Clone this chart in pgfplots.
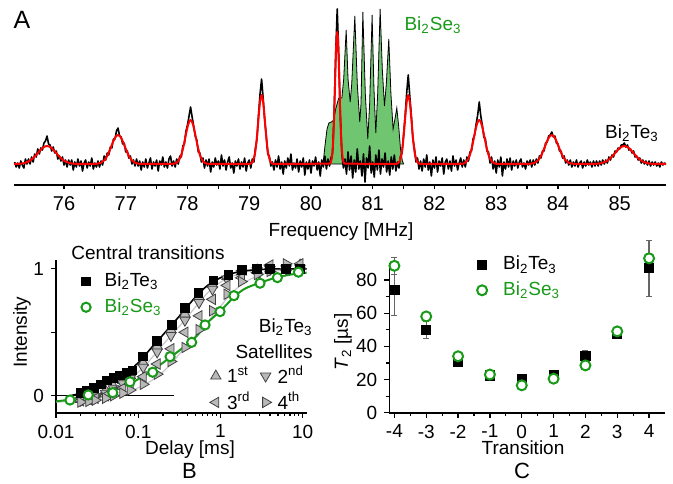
\documentclass[border=0pt]{standalone}
\usepackage{fontspec}
\setmainfont{Liberation Sans}
\usepackage{pgfplots}
\pgfplotsset{compat=1.18}

\definecolor{segreen}{RGB}{112,198,112}
\definecolor{dgreen}{RGB}{24,154,24}
\definecolor{trifill}{RGB}{185,185,185}
\definecolor{satline}{RGB}{200,200,200}
\newcommand\fs{\fontsize{9.5}{11.4}\selectfont}
\newcommand\BT{Bi\textsubscript{2}Te\textsubscript{3}}
\newcommand\BS{Bi\textsubscript{2}Se\textsubscript{3}}

\pgfplotsset{
  panel/.style={scale only axis, tick align=outside,
    axis line style={line width=0.8pt},
    tick style={black, line width=0.6pt},
    major tick length=2.5pt, minor tick length=1.6pt,
    ticklabel style={font=\fs},
    /pgf/number format/assume math mode=true},
}

\begin{document}
\begin{tikzpicture}
\path[use as bounding box] (0,0) rectangle (336.5pt,-241.5pt);

% ---------------- A: spectrum ----------------
\begin{axis}[panel, at={(7pt,-92.5pt)}, anchor=south west,
  width=326pt, height=90.5pt,
  xmin=75.19, xmax=85.75, ymin=-21, ymax=160,
  axis x line*=bottom, axis y line=none,
  xtick={76,...,85}, minor x tick num=1,
  major tick length=2.2pt, minor tick length=2.2pt,
  ticklabel style={font=\fontsize{10}{12}\selectfont}]

% Bi2Se3 central multiplet
\addplot[fill=segreen, draw=black, line width=0.4pt] coordinates {
(80.17,0)(80.20,3)(80.23,20)(80.26,35)(80.29,41)(80.33,42)(80.37,44)(80.40,55)
(80.45,66)(80.50,66)(80.53,85)(80.57,134)(80.60,85)(80.635,62)(80.66,80)(80.71,148)
(80.75,80)(80.79,42)(80.81,60)(80.84,152)(80.88,70)(80.92,25)(80.95,60)(80.99,149)
(81.02,75)(81.05,31)(81.08,70)(81.12,155)(81.155,95)(81.19,58)(81.22,80)(81.26,125)
(81.295,70)(81.33,35)(81.36,45)(81.39,56)(81.42,38)(81.45,15)(81.48,3)(81.50,0)
} \closedcycle;

% Bi2Te3 measured spectrum
\addplot[black, line width=0.8pt, line join=round] coordinates {
(75.200,2)(75.225,-3)(75.250,1)(75.275,-4)(75.300,3)(75.325,-1)(75.350,-4)(75.375,5)
(75.400,0)(75.425,5)(75.450,0)(75.475,7)(75.500,2)(75.525,10)(75.550,7)(75.575,15)
(75.600,10)(75.625,16)(75.650,14)(75.675,21)(75.700,23)(75.725,28)(75.750,20)(75.775,19)
(75.800,13)(75.825,17)(75.850,11)(75.875,13)(75.900,5)(75.925,8)(75.950,3)(75.975,7)
(76.000,-1)(76.025,4)(76.050,-3)(76.075,4)(76.100,-1)(76.125,4)(76.150,-6)(76.175,2)
(76.200,-3)(76.225,5)(76.250,-2)(76.275,3)(76.300,-7)(76.325,1)(76.350,4)(76.375,-4)
(76.400,2)(76.425,-2)(76.450,6)(76.475,-5)(76.500,1)(76.525,-3)(76.550,3)(76.575,-3)
(76.600,3)(76.625,-1)(76.650,8)(76.675,4)(76.700,11)(76.725,9)(76.750,17)(76.775,16)
(76.800,25)(76.825,25)(76.850,33)(76.875,36)(76.900,28)(76.925,27)(76.950,20)(76.975,21)
(77.000,12)(77.025,13)(77.050,6)(77.075,8)(77.100,0)(77.125,4)(77.150,-2)(77.175,5)
(77.200,-2)(77.225,3)(77.250,-6)(77.275,2)(77.300,-3)(77.325,5)(77.350,-4)(77.375,1)
(77.400,6)(77.425,-5)(77.450,2)(77.475,-2)(77.500,4)(77.525,-7)(77.550,3)(77.575,-1)
(77.600,7)(77.625,-3)(77.650,2)(77.675,-4)(77.700,5)(77.725,8)(77.750,-2)(77.775,3)
(77.800,-3)(77.825,5)(77.850,0)(77.875,8)(77.900,7)(77.925,18)(77.950,20)(77.975,33)
(78.000,39)(78.025,48)(78.050,57)(78.075,47)(78.100,38)(78.125,28)(78.150,24)(78.175,12)
(78.200,11)(78.225,2)(78.250,6)(78.275,-4)(78.300,4)(78.325,-2)(78.350,5)(78.375,-8)
(78.400,2)(78.425,-3)(78.450,6)(78.475,-1)(78.500,3)(78.525,-5)(78.550,9)(78.575,-2)
(78.600,4)(78.625,-6)(78.650,2)(78.675,7)(78.700,-4)(78.725,1)(78.750,-9)(78.775,3)
(78.800,-2)(78.825,5)(78.850,-5)(78.875,2)(78.900,-3)(78.925,6)(78.950,-7)(78.975,1)
(79.000,4)(79.025,-4)(79.050,5)(79.075,2)(79.100,16)(79.125,25)(79.150,49)(79.175,70)
(79.200,85)(79.225,66)(79.250,44)(79.275,29)(79.300,10)(79.325,8)(79.350,-2)(79.375,2)
(79.400,-6)(79.425,4)(79.450,-3)(79.475,8)(79.500,-5)(79.525,2)(79.550,-10)(79.575,3)
(79.600,-4)(79.625,6)(79.650,-2)(79.675,10)(79.700,-6)(79.725,1)(79.750,-4)(79.775,5)
(79.800,-8)(79.825,3)(79.850,-3)(79.875,6)(79.900,-11)(79.925,2)(79.950,-5)(79.975,4)
(80.000,-9)(80.025,3)(80.050,-2)(80.075,7)(80.100,-6)(80.125,2)(80.150,-12)(80.175,4)
(80.200,-3)(80.225,8)(80.250,-5)(80.275,5)(80.300,-2)(80.325,6)(80.350,11)(80.375,52)
(80.400,110)(80.425,155)(80.450,108)(80.475,50)(80.500,10)(80.525,-4)(80.550,5)(80.575,-10)
(80.600,12)(80.625,-6)(80.650,8)(80.675,-14)(80.700,4)(80.725,-8)(80.750,15)(80.775,-5)
(80.800,3)(80.825,-12)(80.850,10)(80.875,-18)(80.900,6)(80.925,-4)(80.950,18)(80.975,-9)
(81.000,2)(81.025,-13)(81.050,9)(81.075,-6)(81.100,14)(81.125,-10)(81.150,5)(81.175,-3)
(81.200,11)(81.225,-8)(81.250,3)(81.275,-11)(81.300,7)(81.325,-5)(81.350,9)(81.375,-7)
(81.400,2)(81.425,-4)(81.450,8)(81.475,11)(81.500,30)(81.525,48)(81.550,71)(81.575,89)
(81.600,68)(81.625,49)(81.650,25)(81.675,16)(81.700,2)(81.725,6)(81.750,-5)(81.775,3)
(81.800,-7)(81.825,5)(81.850,-3)(81.875,9)(81.900,-6)(81.925,2)(81.950,-12)(81.975,4)
(82.000,-4)(82.025,7)(82.050,-8)(82.075,3)(82.100,-2)(82.125,6)(82.150,-10)(82.175,2)
(82.200,5)(82.225,-5)(82.250,3)(82.275,-7)(82.300,8)(82.325,-2)(82.350,4)(82.375,-6)
(82.400,1)(82.425,6)(82.450,-3)(82.475,4)(82.500,-3)(82.525,7)(82.550,3)(82.575,12)
(82.600,13)(82.625,25)(82.650,29)(82.675,40)(82.700,49)(82.725,62)(82.750,48)(82.775,39)
(82.800,27)(82.825,25)(82.850,13)(82.875,12)(82.900,1)(82.925,7)(82.950,-5)(82.975,3)
(83.000,-9)(83.025,4)(83.050,-3)(83.075,7)(83.100,-12)(83.125,2)(83.150,-5)(83.175,5)
(83.200,-3)(83.225,6)(83.250,-6)(83.275,3)(83.300,-2)(83.325,4)(83.350,-4)(83.375,2)
(83.400,5)(83.425,-3)(83.450,1)(83.475,-5)(83.500,3)(83.525,-1)(83.550,4)(83.575,-3)
(83.600,4)(83.625,-1)(83.650,5)(83.675,1)(83.700,8)(83.725,6)(83.750,13)(83.775,13)
(83.800,21)(83.825,22)(83.850,28)(83.875,29)(83.900,32)(83.925,27)(83.950,28)(83.975,21)
(84.000,20)(84.025,13)(84.050,13)(84.075,6)(84.100,8)(84.125,1)(84.150,4)(84.175,-1)
(84.200,4)(84.225,-3)(84.250,2)(84.275,-2)(84.300,4)(84.325,-3)(84.350,1)(84.375,3)
(84.400,-4)(84.425,2)(84.450,-2)(84.475,4)(84.500,-1)(84.525,2)(84.550,-3)(84.575,3)
(84.600,-2)(84.625,3)(84.650,-2)(84.675,3)(84.700,-1)(84.725,4)(84.750,0)(84.775,4)
(84.800,1)(84.825,7)(84.850,4)(84.875,9)(84.900,7)(84.925,13)(84.950,12)(84.975,16)
(85.000,15)(85.025,19)(85.050,19)(85.075,21)(85.100,17)(85.125,19)(85.150,14)(85.175,15)
(85.200,11)(85.225,13)(85.250,7)(85.275,8)(85.300,4)(85.325,6)(85.350,1)(85.375,4)
(85.400,0)(85.425,3)(85.450,-1)(85.475,3)(85.500,-2)(85.525,2)(85.550,-1)(85.575,2)
(85.600,-2)(85.625,1)(85.650,-3)(85.675,2)(85.700,-1)(85.725,1)(85.750,0)
};

% Gaussian fit
\addplot[red, line width=1pt, line join=round] coordinates {
(75.19,0)(75.200,0.04)(75.275,0.2)(75.350,0.79)(75.425,2.44)(75.4625,3.89)(75.500,5.84)(75.5375,8.24)
(75.575,10.92)(75.6125,13.59)(75.650,15.89)(75.6875,17.44)(75.725,18)(75.7625,17.44)(75.800,15.89)
(75.8375,13.59)(75.875,10.92)(75.9125,8.24)(75.950,5.84)(75.9875,3.89)(76.025,2.44)(76.100,0.79)
(76.175,0.2)(76.250,0.04)
(76.49,0.06)(76.545,0.32)(76.60,1.27)(76.655,3.92)(76.6825,6.27)(76.71,9.42)(76.7375,13.28)
(76.765,17.59)(76.7925,21.89)(76.82,25.59)(76.8475,28.1)(76.875,29)(76.9025,28.1)(76.93,25.59)
(76.9575,21.89)(76.985,17.59)(77.0125,13.28)(77.04,9.42)(77.0675,6.27)(77.095,3.92)(77.15,1.27)
(77.205,0.32)(77.26,0.06)
(77.7525,0.1)(77.795,0.49)(77.8375,1.93)(77.88,5.95)(77.90125,9.52)(77.9225,14.29)(77.94375,20.14)
(77.965,26.69)(77.98625,33.21)(78.0075,38.83)(78.02875,42.64)(78.05,44)(78.07125,42.64)(78.0925,38.83)
(78.11375,33.21)(78.135,26.69)(78.15625,20.14)(78.1775,14.29)(78.19875,9.52)(78.22,5.95)(78.2625,1.93)
(78.305,0.49)(78.3475,0.1)
(79.0075,0.15)(79.035,0.77)(79.0625,3.03)(79.09,9.34)(79.10375,14.92)(79.1175,22.40)(79.13125,31.59)
(79.145,41.85)(79.15875,52.08)(79.1725,60.89)(79.18625,66.86)(79.2,69)(79.21375,66.86)(79.2275,60.89)
(79.24125,52.08)(79.255,41.85)(79.26875,31.59)(79.2825,22.40)(79.29625,14.92)(79.31,9.34)(79.3375,3.03)
(79.365,0.77)(79.3925,0.15)
(80.3025,0.29)(80.32,1.47)(80.3375,5.8)(80.355,17.9)(80.36375,28.6)(80.3725,42.9)(80.38125,60.4)
(80.39,80.1)(80.39875,99.6)(80.4075,116.5)(80.41625,127.9)(80.425,132)(80.43375,127.9)(80.4425,116.5)
(80.45125,99.6)(80.46,80.1)(80.46875,60.4)(80.4775,42.9)(80.48625,28.6)(80.495,17.9)(80.5125,5.8)
(80.53,1.47)(80.5475,0.29)
(81.3825,0.15)(81.41,0.77)(81.4375,3.03)(81.465,9.34)(81.47875,14.92)(81.4925,22.40)(81.50625,31.59)
(81.52,41.85)(81.53375,52.08)(81.5475,60.89)(81.56125,66.86)(81.575,69)(81.58875,66.86)(81.6025,60.89)
(81.61625,52.08)(81.63,41.85)(81.64375,31.59)(81.6575,22.40)(81.67125,14.92)(81.685,9.34)(81.7125,3.03)
(81.74,0.77)(81.7675,0.15)
(82.4275,0.1)(82.47,0.49)(82.5125,1.93)(82.555,5.95)(82.57625,9.52)(82.5975,14.29)(82.61875,20.14)
(82.64,26.69)(82.66125,33.21)(82.6825,38.83)(82.70375,42.64)(82.725,44)(82.74625,42.64)(82.7675,38.83)
(82.78875,33.21)(82.81,26.69)(82.83125,20.14)(82.8525,14.29)(82.87375,9.52)(82.895,5.95)(82.9375,1.93)
(82.98,0.49)(83.0225,0.1)
(83.515,0.06)(83.57,0.32)(83.625,1.27)(83.68,3.92)(83.7075,6.27)(83.735,9.42)(83.7625,13.28)
(83.79,17.59)(83.8175,21.89)(83.845,25.59)(83.8725,28.1)(83.9,29)(83.9275,28.1)(83.955,25.59)
(83.9825,21.89)(84.01,17.59)(84.0375,13.28)(84.065,9.42)(84.0925,6.27)(84.12,3.92)(84.175,1.27)
(84.23,0.32)(84.285,0.06)
(84.55,0.04)(84.625,0.2)(84.70,0.79)(84.775,2.44)(84.8125,3.89)(84.85,5.84)(84.8875,8.24)
(84.925,10.92)(84.9625,13.59)(85.0,15.89)(85.0375,17.44)(85.075,18)(85.1125,17.44)(85.15,15.89)
(85.1875,13.59)(85.225,10.92)(85.2625,8.24)(85.3,5.84)(85.3375,3.89)(85.375,2.44)(85.45,0.79)
(85.525,0.2)(85.6,0.04)(85.75,0)
};
\end{axis}

\node[inner sep=0, font=\fontsize{12.5}{14}\selectfont] at (11pt,-10pt) {A};
\node[inner sep=0, font=\fs, text=dgreen] at (216.5pt,-12.5pt) {\BS};
\node[inner sep=0, font=\fs] at (316pt,-66.5pt) {\BT};
\node[inner sep=0, font=\fs] at (170.5pt,-116pt) {Frequency [MHz]};

% ---------------- B: recovery curves ----------------
\begin{axis}[panel, at={(28pt,-206.35pt)}, anchor=south west,
  width=125.35pt, height=76.35pt,
  xmode=log, xmin=0.01, xmax=11.2, ymin=-0.134, ymax=1.07,
  axis lines*=left,
  xtick={0.01,0.1,1,10}, xticklabels={0.01,0.1,1,10},
  ytick={0,0.5,1}, yticklabels={0,,1},
  legend image code/.code={\draw[#1] plot coordinates {(0pt,0pt)};},
  legend style={at={(0.1,0.93)}, anchor=north west, draw=none, fill=none,
    inner sep=0pt, row sep=2.5pt, font=\fs, nodes={inner sep=1pt},
    /tikz/every odd column/.append style={column sep=6pt}},
  legend cell align=left]

\addplot[satline, line width=0.6pt, smooth, forget plot] coordinates {
(0.0126,-0.04)(0.0189,-0.03)(0.0252,-0.015)(0.0378,0.025)(0.063,0.095)(0.088,0.155)
(0.126,0.25)(0.189,0.385)(0.252,0.475)(0.378,0.605)(0.63,0.78)(0.88,0.87)(1.26,0.93)
(1.89,0.97)(2.52,0.985)(3.78,0.995)(6.3,1.0)(11.2,1.0)};
\addplot[satline, line width=0.6pt, smooth, forget plot] coordinates {
(0.01,-0.05)(0.025,-0.04)(0.0375,-0.03)(0.05,-0.015)(0.075,0.025)(0.125,0.095)(0.175,0.155)
(0.25,0.25)(0.375,0.385)(0.5,0.475)(0.75,0.605)(1.25,0.78)(1.75,0.87)(2.5,0.93)
(3.75,0.97)(5,0.985)(7.5,0.995)(11.2,1.0)};

% satellites 1st..4th
\addplot[only marks, mark=triangle*, mark size=3pt, forget plot,
  mark options={draw=black!75, fill=trifill, line width=0.4pt}] coordinates {
(0.02,-0.03)(0.025,-0.01)(0.03,0.005)(0.04,0.04)(0.05,0.075)(0.065,0.12)(0.08,0.16)
(0.115,0.26)(0.17,0.39)(0.25,0.52)(0.37,0.645)(0.55,0.78)(0.8,0.875)(1.2,0.94)
(1.8,0.975)(2.8,0.99)(4,1.0)(6.3,1.01)(9.3,1.03)};
\addplot[only marks, mark=triangle*, mark size=3pt, forget plot,
  mark options={draw=black!75, fill=trifill, line width=0.4pt, rotate=180}] coordinates {
(0.02,-0.035)(0.025,-0.02)(0.03,-0.01)(0.04,0.02)(0.05,0.055)(0.065,0.095)(0.08,0.135)
(0.115,0.225)(0.17,0.345)(0.25,0.475)(0.37,0.595)(0.55,0.735)(0.8,0.84)(1.2,0.92)
(1.8,0.965)(2.8,0.985)(4,0.995)(6.3,1.0)(9.3,1.005)};
\addplot[only marks, mark=triangle*, mark size=3pt, forget plot,
  mark options={draw=black!75, fill=trifill, line width=0.4pt, rotate=90}] coordinates {
(0.02,-0.04)(0.025,-0.03)(0.03,-0.02)(0.04,0.0)(0.05,0.03)(0.065,0.06)(0.08,0.09)
(0.115,0.15)(0.17,0.25)(0.25,0.37)(0.37,0.5)(0.55,0.63)(0.8,0.76)(1.2,0.87)
(1.8,0.93)(2.8,0.97)(4,1.03)(6.3,1.0)(9.3,1.04)};
\addplot[only marks, mark=triangle*, mark size=3pt, forget plot,
  mark options={draw=black!75, fill=trifill, line width=0.4pt, rotate=-90}] coordinates {
(0.02,-0.05)(0.025,-0.045)(0.03,-0.035)(0.04,-0.02)(0.05,0.0)(0.065,0.02)(0.08,0.045)
(0.115,0.09)(0.17,0.17)(0.25,0.27)(0.37,0.38)(0.55,0.52)(0.8,0.67)(1.2,0.8)
(1.8,0.9)(2.8,0.955)(4,0.98)(6.3,1.04)(9.3,1.0)};

\addplot[black, line width=0.4pt, forget plot] coordinates {(0.01,0)(0.27,0)};

\addplot[black, line width=0.8pt, smooth, forget plot] coordinates {
(0.015,0.0)(0.02,0.02)(0.03,0.055)(0.05,0.12)(0.07,0.175)(0.1,0.26)(0.15,0.39)(0.2,0.48)
(0.3,0.61)(0.5,0.78)(0.7,0.87)(1,0.93)(1.5,0.97)(2,0.985)(3,0.995)(5,1.0)(11.2,1.0)};
\addplot[only marks, mark=square*, mark size=2.2pt, black, forget plot] coordinates {
(0.020,0.02)(0.024,0.04)(0.029,0.06)(0.035,0.09)(0.042,0.12)(0.050,0.14)(0.060,0.16)
(0.072,0.18)(0.085,0.2)(0.115,0.31)(0.168,0.43)(0.255,0.56)(0.37,0.69)(0.54,0.81)
(0.82,0.91)(1.25,0.955)(1.82,0.99)(2.77,1.0)(4.0,1.0)(6.3,1.0)(9.3,1.0)};

\addplot[dgreen, line width=1pt, smooth, forget plot] coordinates {
(0.01,-0.045)(0.015,-0.03)(0.02,-0.015)(0.03,0.005)(0.05,0.04)(0.07,0.08)(0.1,0.13)
(0.15,0.2)(0.2,0.26)(0.3,0.345)(0.5,0.462)(0.7,0.577)(1,0.668)(1.5,0.785)(2,0.845)
(3,0.89)(5,0.935)(8,0.96)(11.2,0.97)};
\addplot[only marks, mark=*, mark size=2.3pt, forget plot,
  mark options={draw=dgreen, fill=white, line width=1pt}] coordinates {
(0.0148,-0.034)(0.0247,0.006)(0.049,0.024)(0.0795,0.11)(0.15,0.185)(0.244,0.308)
(0.447,0.421)(0.65,0.558)(0.99,0.663)(1.46,0.789)(3.03,0.887)(4.93,0.931)(8.88,0.974)};

\addlegendimage{mark=square*, mark size=2.2pt, black}
\addlegendentry{\BT}
\addlegendimage{mark=*, mark size=2.3pt, mark options={draw=dgreen, fill=white, line width=1pt}}
\addlegendentry{\textcolor{dgreen}{\BS}}
\end{axis}

% satellites legend
\begin{axis}[at={(28pt,-206.35pt)}, anchor=south west, scale only axis,
  width=125.35pt, height=76.35pt, hide axis,
  xmin=0, xmax=1, ymin=0, ymax=1,
  legend columns=2,
  legend image code/.code={\draw[#1] plot coordinates {(0pt,0pt)};},
  legend style={at={(0.612,0.322)}, anchor=north west, draw=none, fill=none,
    inner sep=0pt, row sep=1pt, font=\fs, nodes={inner sep=1pt},
    /tikz/every odd column/.append style={column sep=2pt},
    /tikz/every even column/.append style={column sep=4pt}},
  legend cell align=left]
\addlegendimage{mark=triangle*, mark size=3pt, mark options={draw=black!75, fill=trifill, line width=0.4pt}}
\addlegendentry{1\textsuperscript{st}}
\addlegendimage{mark=triangle*, mark size=3pt, mark options={draw=black!75, fill=trifill, line width=0.4pt, rotate=180}}
\addlegendentry{2\textsuperscript{nd}}
\addlegendimage{mark=triangle*, mark size=3pt, mark options={draw=black!75, fill=trifill, line width=0.4pt, rotate=90}}
\addlegendentry{3\textsuperscript{rd}}
\addlegendimage{mark=triangle*, mark size=3pt, mark options={draw=black!75, fill=trifill, line width=0.4pt, rotate=-90}}
\addlegendentry{4\textsuperscript{th}}
\end{axis}

\node[inner sep=0, font=\fs] at (74pt,-126.5pt) {Central transitions};
\node[inner sep=0, font=\fs, rotate=90] at (11pt,-166pt) {Intensity};
\node[inner sep=0, font=\fs, anchor=east] at (156.5pt,-163.4pt) {\BT};
\node[inner sep=0, font=\fs, anchor=east] at (156.5pt,-175.9pt) {Satellites};
\node[inner sep=0, font=\fs] at (95pt,-225pt) {Delay [ms]};
\node[inner sep=0, font=\fontsize{11}{13}\selectfont] at (94.75pt,-235.5pt) {B};

% ---------------- C: T2 ----------------
\begin{axis}[panel, at={(194.65pt,-206.35pt)}, anchor=south west,
  width=137.85pt, height=74.7pt,
  xmin=-4.16, xmax=4.5, ymin=0, ymax=90,
  axis lines*=left, clip=false,
  xtick={-4,...,4}, ytick={0,20,...,80},
  minor x tick num=1, minor y tick num=1,
  legend image code/.code={\draw[#1] plot coordinates {(0pt,0pt)};},
  legend style={at={(0.317,1.064)}, anchor=north west, draw=none, fill=none,
    inner sep=0pt, row sep=2.5pt, font=\fs, nodes={inner sep=1pt},
    /tikz/every odd column/.append style={column sep=7pt}},
  legend cell align=left]

\addplot[only marks, mark=square*, mark size=2.3pt, black, forget plot,
  error bars/.cd, y dir=both, y explicit,
  error bar style={black!60, line width=0.6pt},
  error mark options={rotate=90, mark size=1.5pt, black!60}] coordinates {
(-4,74) +- (0,15.5)
(-3,50) +- (0,5)
(-2,30.5) +- (0,2)
(-1,22.5) +- (0,1)
(0,20.5) +- (0,1)
(1,22.5) +- (0,1)
(2,34) +- (0,3.5)
(3,47.5) +- (0,1)
(4,87) +- (0,17)
};
\addplot[only marks, mark=*, mark size=2.5pt, forget plot,
  mark options={draw=dgreen, fill=white, line width=1pt},
  error bars/.cd, y dir=both, y explicit,
  error bar style={black!60, line width=0.6pt},
  error mark options={rotate=90, mark size=1.5pt, black!60}] coordinates {
(-4,88.5) +- (0,5)
(-3,58) +- (0,1)
(-2,34) +- (0,1)
(-1,23) +- (0,1)
(0,16.5) +- (0,1)
(1,20.5) +- (0,1)
(2,28.5) +- (0,1)
(3,49) +- (0,1)
(4,93) +- (0,3)
};

\addlegendimage{mark=square*, mark size=2.3pt, black}
\addlegendentry{\BT}
\addlegendimage{mark=*, mark size=2.5pt, mark options={draw=dgreen, fill=white, line width=1pt}}
\addlegendentry{\textcolor{dgreen}{\BS}}
\end{axis}

\node[inner sep=0, font=\fs, rotate=90] at (171.5pt,-171pt) {\textit{T}\textsubscript{2} [µs]};
\node[inner sep=0, font=\fs] at (261.5pt,-224pt) {Transition};
\node[inner sep=0, font=\fontsize{11}{13}\selectfont] at (261pt,-235.5pt) {C};

\end{tikzpicture}
\end{document}
